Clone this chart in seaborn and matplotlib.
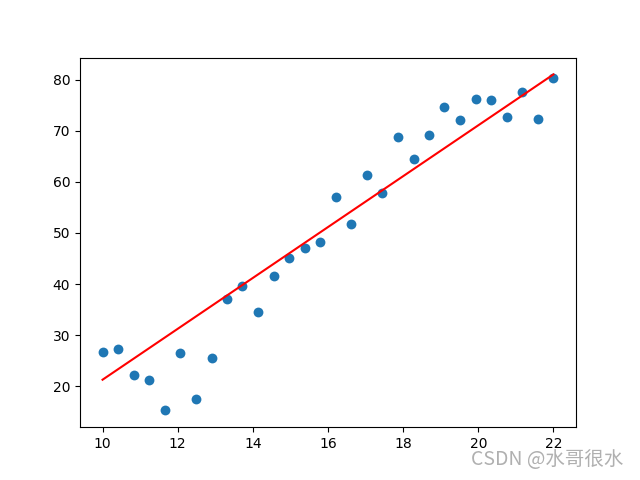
import numpy as np
import pandas as pd
import matplotlib
matplotlib.use("Agg")
import matplotlib.pyplot as plt
import seaborn as sns

# data
x_vals = [10.0, 10.41, 10.83, 11.24, 11.66, 12.07, 12.48, 12.9, 13.31, 13.72,
          14.14, 14.55, 14.97, 15.38, 15.79, 16.21, 16.62, 17.03, 17.45, 17.86,
          18.28, 18.69, 19.1, 19.52, 19.93, 20.34, 20.76, 21.17, 21.59, 22.0]
y_vals = [26.7, 27.3, 22.2, 21.2, 15.3, 26.5, 17.5, 25.6, 37.0, 39.6,
          34.6, 41.6, 45.1, 47.1, 48.3, 57.1, 51.7, 61.4, 57.8, 68.7,
          64.4, 69.1, 74.7, 72.0, 76.1, 75.9, 72.6, 77.6, 72.3, 80.2]
# fitted line end points
line_x = [10.0, 22.0]
line_y = [21.3, 81.0]

df = pd.DataFrame({"x": x_vals, "y": y_vals})
line_df = pd.DataFrame({"x": line_x, "y": line_y})

fig, ax = plt.subplots(figsize=(6.4, 4.8), dpi=100)
sns.scatterplot(data=df, x="x", y="y", color="#1f77b4", s=50, linewidth=0, ax=ax)
sns.lineplot(data=line_df, x="x", y="y", color="red", ax=ax)
ax.set_xlabel("")
ax.set_ylabel("")
ax.set_xticks([10, 12, 14, 16, 18, 20, 22])
ax.set_yticks([20, 30, 40, 50, 60, 70, 80])

fig.text(0.974, 0.02, "CSDN @水哥很水", ha="right", va="bottom", fontsize=14,
         color="#b0b0b0", family=["Noto Sans CJK SC", "DejaVu Sans"])

fig.savefig("out.png", dpi=100)
